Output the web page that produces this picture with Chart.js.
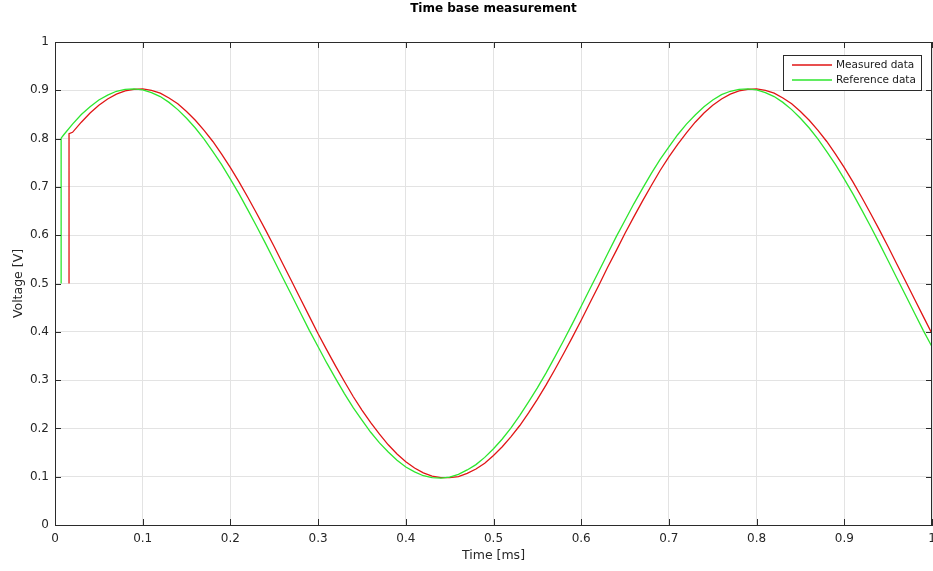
<!DOCTYPE html>
<html>
<head>
<meta charset="utf-8">
<title>Time base measurement</title>
<script src="https://cdn.jsdelivr.net/npm/chart.js@4.4.1/dist/chart.umd.min.js"></script>
<style>
  html, body { margin: 0; padding: 0; background: #ffffff; }
  canvas { display: block; }
</style>
</head>
<body>
<canvas id="grafico" width="933" height="571"></canvas>
<script>
// --- DATA ---
const timeMs = [
  0.01, 0.02, 0.03, 0.04, 0.05, 0.06, 0.07, 0.08, 0.09, 0.10,
  0.11, 0.12, 0.13, 0.14, 0.15, 0.16, 0.17, 0.18, 0.19, 0.20,
  0.21, 0.22, 0.23, 0.24, 0.25, 0.26, 0.27, 0.28, 0.29, 0.30,
  0.31, 0.32, 0.33, 0.34, 0.35, 0.36, 0.37, 0.38, 0.39, 0.40,
  0.41, 0.42, 0.43, 0.44, 0.45, 0.46, 0.47, 0.48, 0.49, 0.50,
  0.51, 0.52, 0.53, 0.54, 0.55, 0.56, 0.57, 0.58, 0.59, 0.60,
  0.61, 0.62, 0.63, 0.64, 0.65, 0.66, 0.67, 0.68, 0.69, 0.70,
  0.71, 0.72, 0.73, 0.74, 0.75, 0.76, 0.77, 0.78, 0.79, 0.80,
  0.81, 0.82, 0.83, 0.84, 0.85, 0.86, 0.87, 0.88, 0.89, 0.90,
  0.91, 0.92, 0.93, 0.94, 0.95, 0.96, 0.97, 0.98, 0.99, 1.00
];

// measured signal (red) - starts late, so no value at 0.01
const measuredVolt = [
  null,  0.813, 0.834, 0.853, 0.869, 0.882, 0.892, 0.899, 0.902, 0.903,
  0.900, 0.894, 0.884, 0.872, 0.856, 0.838, 0.817, 0.794, 0.768, 0.740,
  0.710, 0.678, 0.645, 0.611, 0.576, 0.540, 0.504, 0.468, 0.432, 0.396,
  0.362, 0.329, 0.297, 0.266, 0.238, 0.212, 0.188, 0.166, 0.147, 0.131,
  0.118, 0.108, 0.101, 0.098, 0.098, 0.100, 0.107, 0.116, 0.128, 0.144,
  0.162, 0.183, 0.206, 0.232, 0.260, 0.290, 0.322, 0.355, 0.389, 0.424,
  0.460, 0.496, 0.533, 0.568, 0.604, 0.638, 0.671, 0.703, 0.734, 0.762,
  0.788, 0.812, 0.834, 0.853, 0.869, 0.882, 0.892, 0.899, 0.902, 0.903,
  0.900, 0.894, 0.884, 0.872, 0.856, 0.838, 0.817, 0.794, 0.768, 0.740,
  0.710, 0.678, 0.645, 0.611, 0.576, 0.540, 0.504, 0.468, 0.432, 0.396
];

// reference signal (green)
const referenceVolt = [
  0.808, 0.830, 0.850, 0.866, 0.880, 0.890, 0.898, 0.902, 0.903, 0.901,
  0.895, 0.887, 0.875, 0.860, 0.842, 0.822, 0.799, 0.773, 0.746, 0.716,
  0.685, 0.652, 0.618, 0.583, 0.547, 0.511, 0.475, 0.439, 0.403, 0.369,
  0.335, 0.303, 0.272, 0.243, 0.217, 0.192, 0.170, 0.151, 0.134, 0.120,
  0.110, 0.102, 0.098, 0.097, 0.099, 0.105, 0.114, 0.125, 0.140, 0.158,
  0.178, 0.201, 0.227, 0.255, 0.284, 0.315, 0.348, 0.382, 0.417, 0.453,
  0.489, 0.525, 0.561, 0.597, 0.631, 0.665, 0.697, 0.728, 0.757, 0.783,
  0.808, 0.830, 0.849, 0.866, 0.880, 0.891, 0.898, 0.902, 0.903, 0.901,
  0.895, 0.887, 0.875, 0.860, 0.842, 0.822, 0.799, 0.773, 0.746, 0.716,
  0.685, 0.652, 0.618, 0.583, 0.547, 0.511, 0.475, 0.439, 0.403, 0.369
];

// the step at switch-on
const measuredStartTime = [0.016, 0.016];
const measuredStartVolt = [0.5, 0.81];
const referenceStartTime = [0.007, 0.007];
const referenceStartVolt = [0.5, 0.801];

const xTickLabels = ['0', '0.1', '0.2', '0.3', '0.4', '0.5', '0.6', '0.7', '0.8', '0.9', '1'];
const yTickLabels = ['0', '0.1', '0.2', '0.3', '0.4', '0.5', '0.6', '0.7', '0.8', '0.9', '1'];

const seriesNames = ['Measured data', 'Reference data'];
const seriesColors = ['#e01515', '#2ee62e'];

// --- helpers ---
function montarPontos(tStart, vStart, tempos, valores) {
    const pontos = tStart.map((t, i) => ({ x: t, y: vStart[i] }));
    tempos.forEach((t, i) => {
        if (valores[i] !== null) pontos.push({ x: t, y: valores[i] });
    });
    return pontos;
}

const corEixo = '#2b2b2b';
const corGrelha = '#e3e3e3';
const fonteBase = "'DejaVu Sans', sans-serif";

// MATLAB style box: top/right border and inward ticks on all four sides
const caixaEixos = {
    id: 'caixaEixos',
    afterDatasetsDraw(chart) {
        const { ctx, chartArea: a, scales } = chart;
        const tam = 6;
        ctx.save();
        ctx.strokeStyle = corEixo;
        ctx.lineWidth = 1;
        ctx.beginPath();
        ctx.moveTo(a.left, a.top + 0.5);
        ctx.lineTo(a.right, a.top + 0.5);
        ctx.moveTo(a.right - 0.5, a.top);
        ctx.lineTo(a.right - 0.5, a.bottom);
        scales.x.ticks.forEach(t => {
            const px = Math.round(scales.x.getPixelForValue(t.value)) + 0.5;
            ctx.moveTo(px, a.bottom);
            ctx.lineTo(px, a.bottom - tam);
            ctx.moveTo(px, a.top);
            ctx.lineTo(px, a.top + tam);
        });
        scales.y.ticks.forEach(t => {
            const py = Math.round(scales.y.getPixelForValue(t.value)) + 0.5;
            ctx.moveTo(a.left, py);
            ctx.lineTo(a.left + tam, py);
            ctx.moveTo(a.right, py);
            ctx.lineTo(a.right - tam, py);
        });
        ctx.stroke();
        ctx.restore();
    }
};

// legend box drawn inside the plot, top right
const legendaInterna = {
    id: 'legendaInterna',
    afterDraw(chart) {
        const { ctx, chartArea: a } = chart;
        const largura = 138, altura = 35;
        const x0 = a.right - 11 - largura;
        const y0 = a.top + 13;
        ctx.save();
        ctx.fillStyle = '#ffffff';
        ctx.fillRect(x0, y0, largura, altura);
        ctx.strokeStyle = corEixo;
        ctx.lineWidth = 1;
        ctx.strokeRect(x0 + 0.5, y0 + 0.5, largura, altura);
        ctx.font = '10.5px ' + fonteBase;
        ctx.textBaseline = 'middle';
        ctx.textAlign = 'left';
        seriesNames.forEach((nome, i) => {
            const yy = y0 + 10 + i * 15;
            ctx.strokeStyle = seriesColors[i];
            ctx.lineWidth = 1.4;
            ctx.beginPath();
            ctx.moveTo(x0 + 9, yy);
            ctx.lineTo(x0 + 49, yy);
            ctx.stroke();
            ctx.fillStyle = '#1a1a1a';
            ctx.fillText(nome, x0 + 53, yy);
        });
        ctx.restore();
    }
};

const ctx = document.getElementById('grafico').getContext('2d');
new Chart(ctx, {
    type: 'line',
    data: {
        datasets: [
            {
                label: seriesNames[0],
                data: montarPontos(measuredStartTime, measuredStartVolt, timeMs, measuredVolt),
                borderColor: seriesColors[0],
                borderWidth: 1.3,
                pointRadius: 0,
                tension: 0,
                order: 2
            },
            {
                label: seriesNames[1],
                data: montarPontos(referenceStartTime, referenceStartVolt, timeMs, referenceVolt),
                borderColor: seriesColors[1],
                borderWidth: 1.3,
                pointRadius: 0,
                tension: 0,
                order: 1
            }
        ]
    },
    options: {
        responsive: false,
        animation: false,
        layout: { padding: { left: 0, right: 1, top: 0, bottom: 0 } },
        plugins: {
            legend: { display: false },
            tooltip: { enabled: false },
            title: {
                display: true,
                text: 'Time base measurement',
                fullSize: false,
                color: '#000000',
                font: { family: fonteBase, size: 12, weight: 'bold' },
                padding: { top: 2, bottom: 25.6 }
            }
        },
        scales: {
            x: {
                type: 'linear',
                min: 0,
                max: 1,
                ticks: {
                    stepSize: 0.1,
                    color: '#262626',
                    padding: 7,
                    maxRotation: 0,
                    autoSkip: false,
                    font: { family: fonteBase, size: 12 },
                    callback: (v, i) => xTickLabels[i]
                },
                grid: { color: corGrelha, drawTicks: false },
                border: { color: corEixo, width: 1 },
                title: {
                    display: true,
                    text: 'Time [ms]',
                    color: '#262626',
                    font: { family: fonteBase, size: 12.5 },
                    padding: { top: 0, bottom: 7.5 }
                },
                afterFit(scale) {
                    scale.height = 46;
                    scale.paddingLeft = 0;
                    scale.paddingRight = 0;
                }
            },
            y: {
                type: 'linear',
                min: 0,
                max: 1,
                ticks: {
                    stepSize: 0.1,
                    color: '#262626',
                    padding: 6,
                    autoSkip: false,
                    font: { family: fonteBase, size: 12 },
                    callback: (v, i) => yTickLabels[i]
                },
                grid: { color: corGrelha, drawTicks: false },
                border: { color: corEixo, width: 1 },
                title: {
                    display: true,
                    text: 'Voltage [V]',
                    color: '#262626',
                    font: { family: fonteBase, size: 12.5 },
                    padding: { top: 11.5, bottom: 0 }
                },
                afterFit(scale) {
                    scale.width = 55;
                    scale.paddingTop = 0;
                    scale.paddingBottom = 0;
                }
            }
        }
    },
    plugins: [caixaEixos, legendaInterna]
});
</script>
</body>
</html>
